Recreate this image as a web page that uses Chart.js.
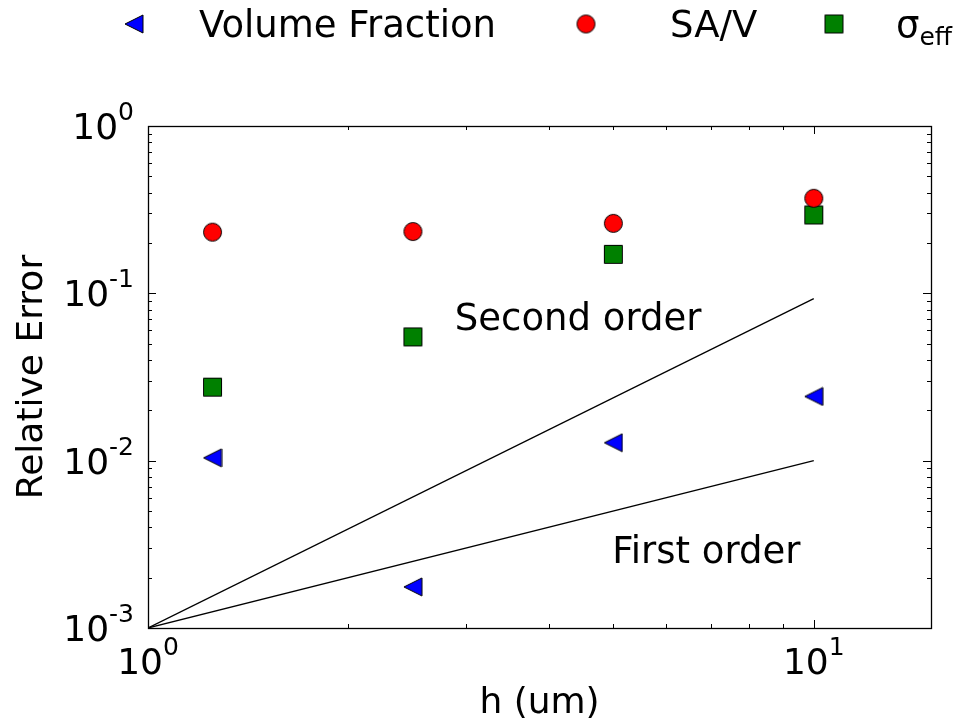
<!DOCTYPE html>
<html>
<head>
<meta charset="utf-8">
<script src="https://cdn.jsdelivr.net/npm/chart.js@4.4.0/dist/chart.umd.min.js"></script>
<style>
  body { margin: 0; background: #fff; }
  #wrap { width: 959px; height: 725px; }
</style>
</head>
<body>
<div id="wrap"><canvas id="myChart"></canvas></div>
<script>
// values
let hValues = [1.25, 2.5, 5, 10];
let volumeFraction = [0.0104, 0.00176, 0.0128, 0.0242];
let saV = [0.232, 0.234, 0.262, 0.37];
let sigmaEff = [0.0275, 0.0549, 0.171, 0.294];

// reference slopes
let firstOrderX = [1, 10];
let firstOrderY = [0.001, 0.01];
let secondOrderX = [1, 10];
let secondOrderY = [0.001, 0.093];

// tick labels (10^exp)
let xTickValues = [1, 10];
let xTickExp = ["0", "1"];
let yTickValues = [0.001, 0.01, 0.1, 1];
let yTickExp = ["-3", "-2", "-1", "0"];

const FONT = "'DejaVu Sans', sans-serif";

//marker images, matplotlib style with black edge
function makeMarker(shape, fill, size) {
  let c = document.createElement("canvas");
  c.width = size + 2;
  c.height = size + 2;
  let g = c.getContext("2d");
  g.fillStyle = fill;
  g.strokeStyle = "#000";
  g.lineWidth = 1;
  g.beginPath();
  if (shape === "circle") {
    g.arc(1 + size / 2, 1 + size / 2, size / 2 - 0.5, 0, 2 * Math.PI);
  } else if (shape === "square") {
    g.rect(1.5, 1.5, size - 1, size - 1);
  } else {
    g.moveTo(1, 1 + size / 2);
    g.lineTo(size + 1, 1);
    g.lineTo(size + 1, size + 1);
    g.closePath();
  }
  g.fill();
  g.stroke();
  return c;
}

let triMarker = makeMarker("triangle", "#0000ff", 18);
let circMarker = makeMarker("circle", "#ff0000", 19);
let sqMarker = makeMarker("square", "#008000", 19);

function toPoints(xs, ys) {
  return xs.map((x, i) => ({ x: x, y: ys[i] }));
}

// draw "10" with superscript exponent
function drawPow(ctx, exp, x, y, align) {
  ctx.font = "36px " + FONT;
  let w1 = ctx.measureText("10").width;
  ctx.font = "25px " + FONT;
  let w2 = ctx.measureText(exp).width;
  let start = align === "right" ? x - w1 - w2 : x - (w1 + w2) / 2;
  ctx.textAlign = "left";
  ctx.textBaseline = "alphabetic";
  ctx.font = "36px " + FONT;
  ctx.fillText("10", start, y);
  ctx.font = "25px " + FONT;
  ctx.fillText(exp, start + w1, y - 19);
}

const axesPlugin = {
  id: "axesPlugin",
  afterDraw(chart) {
    let ctx = chart.ctx;
    let a = chart.chartArea;
    let xs = chart.scales.x;
    let ys = chart.scales.y;
    ctx.save();
    ctx.strokeStyle = "#000";
    ctx.fillStyle = "#000";
    ctx.lineWidth = 1;

    // ticks, inside on all four sides
    let tick = (x1, y1, x2, y2) => {
      ctx.beginPath();
      ctx.moveTo(x1, y1);
      ctx.lineTo(x2, y2);
      ctx.stroke();
    };
    xTickValues.forEach((v) => {
      let px = Math.round(xs.getPixelForValue(v)) + 0.5;
      tick(px, a.bottom, px, a.bottom - 8);
      tick(px, a.top, px, a.top + 8);
      for (let k = 2; k <= 9; k++) {
        if (v * k > xs.max) break;
        let mx = Math.round(xs.getPixelForValue(v * k)) + 0.5;
        tick(mx, a.bottom, mx, a.bottom - 4);
        tick(mx, a.top, mx, a.top + 4);
      }
    });
    yTickValues.forEach((v) => {
      let py = Math.round(ys.getPixelForValue(v)) + 0.5;
      tick(a.left, py, a.left + 8, py);
      tick(a.right, py, a.right - 8, py);
      for (let k = 2; k <= 9; k++) {
        if (v * k > ys.max) break;
        let my = Math.round(ys.getPixelForValue(v * k)) + 0.5;
        tick(a.left, my, a.left + 4, my);
        tick(a.right, my, a.right - 4, my);
      }
    });

    // frame
    ctx.lineWidth = 1.3;
    ctx.strokeRect(a.left + 0.5, a.top + 0.5, a.right - a.left, a.bottom - a.top);

    // tick labels
    xTickValues.forEach((v, i) => {
      drawPow(ctx, xTickExp[i], xs.getPixelForValue(v), a.bottom + 46, "center");
    });
    yTickValues.forEach((v, i) => {
      drawPow(ctx, yTickExp[i], a.left - 14, ys.getPixelForValue(v) + 13, "right");
    });

    // axis titles
    ctx.font = "36px " + FONT;
    ctx.textAlign = "center";
    ctx.textBaseline = "alphabetic";
    ctx.fillText("h (um)", (a.left + a.right) / 2, 713);
    ctx.save();
    ctx.translate(42, (a.top + a.bottom) / 2);
    ctx.rotate(-Math.PI / 2);
    ctx.fillText("Relative Error", 0, 0);
    ctx.restore();

    // slope annotations
    ctx.font = "37px " + FONT;
    ctx.textAlign = "left";
    ctx.fillText("Second order", xs.getPixelForValue(2.89), ys.getPixelForValue(0.0604));
    ctx.fillText("First order", xs.getPixelForValue(4.98), ys.getPixelForValue(0.00245));

    // legend row on top
    let ly = 24;
    ctx.drawImage(triMarker, 134 - triMarker.width / 2, ly - triMarker.height / 2);
    ctx.drawImage(circMarker, 586 - circMarker.width / 2, ly - circMarker.height / 2);
    ctx.drawImage(sqMarker, 834 - sqMarker.width / 2, ly - sqMarker.height / 2);
    ctx.font = "37px " + FONT;
    ctx.fillText("Volume Fraction", 199, 37);
    ctx.fillText("SA/V", 670, 37);
    ctx.fillText("σ", 896, 37);
    let sw = ctx.measureText("σ").width;
    ctx.font = "25px " + FONT;
    ctx.fillText("eff", 896 + sw, 45);
    ctx.restore();
  },
};

const ctx = document.getElementById("myChart");

new Chart(ctx, {
  type: "scatter",
  data: {
    datasets: [
      {
        label: "Volume Fraction",
        data: toPoints(hValues, volumeFraction),
        pointStyle: triMarker,
        order: 1,
      },
      {
        label: "SA/V",
        data: toPoints(hValues, saV),
        pointStyle: circMarker,
        order: 1,
      },
      {
        label: "sigma_eff",
        data: toPoints(hValues, sigmaEff),
        pointStyle: sqMarker,
        order: 1,
      },
      {
        label: "First order",
        data: toPoints(firstOrderX, firstOrderY),
        showLine: true,
        borderColor: "#000",
        borderWidth: 1.3,
        pointRadius: 0,
        order: 2,
      },
      {
        label: "Second order",
        data: toPoints(secondOrderX, secondOrderY),
        showLine: true,
        borderColor: "#000",
        borderWidth: 1.3,
        pointRadius: 0,
        order: 2,
      },
    ],
  },
  options: {
    responsive: true,
    maintainAspectRatio: false,
    animation: false,
    events: [],
    layout: {
      padding: { left: 148, top: 126, right: 28, bottom: 97 },
    },
    plugins: {
      legend: { display: false },
      tooltip: { enabled: false },
    },
    scales: {
      x: { type: "logarithmic", min: 1, max: 15, display: false },
      y: { type: "logarithmic", min: 0.001, max: 1, display: false },
    },
  },
  plugins: [axesPlugin],
});
</script>
</body>
</html>
